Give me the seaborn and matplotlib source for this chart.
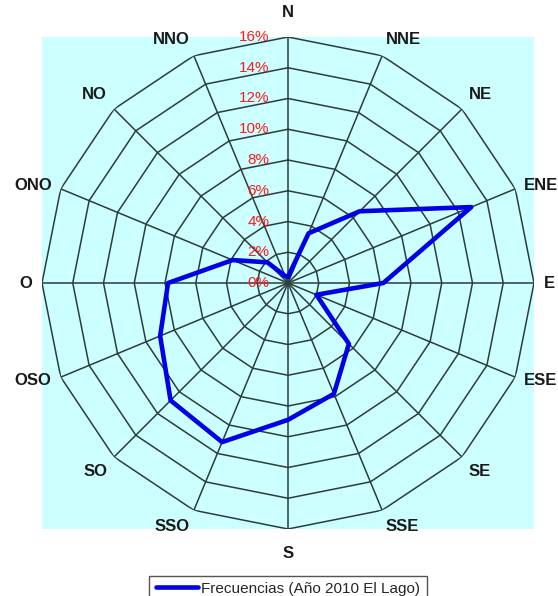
import numpy as np
import matplotlib
matplotlib.use('Agg')
import matplotlib.pyplot as plt
import seaborn as sns
from matplotlib.patches import Rectangle

# Datos: frecuencias de dirección del viento (%)
direcciones = ['N', 'NNE', 'NE', 'ENE', 'E', 'ESE', 'SE', 'SSE',
               'S', 'SSO', 'SO', 'OSO', 'O', 'ONO', 'NO', 'NNO']
frecuencias = [0.4, 3.5, 6.6, 12.9, 6.2, 2.0, 5.6, 7.8,
               8.9, 11.2, 10.8, 9.0, 7.8, 3.9, 1.9, 0.5]
niveles = [0, 2, 4, 6, 8, 10, 12, 14, 16]
etiquetas_niveles = [f'{n}%' for n in niveles]
serie = 'Frecuencias (Año 2010 El Lago)'

sns.set_theme(style='white')
plt.rcParams['font.family'] = ['Liberation Sans', 'DejaVu Sans']

W, H = 558, 596
fig = plt.figure(figsize=(W / 100, H / 100), dpi=100)

# Posición del área polar (centro ~ (288, 283) px, radio ~ 246 px)
cx, cy, rad = 288, 283, 246
rect = [(cx - rad) / W, (H - cy - rad) / H, 2 * rad / W, 2 * rad / H]

# Fondo celeste detrás del radar
fig.add_artist(Rectangle((rect[0], rect[1]), rect[2], rect[3],
                         transform=fig.transFigure, facecolor='#ccffff',
                         edgecolor='none', zorder=0))

ax = fig.add_axes(rect, projection='polar')
ax.set_facecolor('none')
ax.set_theta_zero_location('N')
ax.set_theta_direction(-1)
ax.set_ylim(0, niveles[-1])
ax.grid(False)
ax.set_xticks([])
ax.set_yticks([])
ax.spines['polar'].set_visible(False)

n = len(direcciones)
angulos = np.linspace(0, 2 * np.pi, n, endpoint=False)
ang_cerrado = np.append(angulos, 2 * np.pi)

# Rejilla poligonal
color_rejilla = '#2b3d3b'
for nv in niveles[1:]:
    ax.plot(ang_cerrado, [nv] * (n + 1), color=color_rejilla, lw=1.1, zorder=1)
for a in angulos:
    ax.plot([a, a], [0, niveles[-1]], color=color_rejilla, lw=1.1, zorder=1)

# Serie de datos
sns.lineplot(x=ang_cerrado, y=frecuencias + frecuencias[:1], sort=False,
             estimator=None, ax=ax, color='#0000e6', lw=3.3, label=serie,
             zorder=3, legend=False)

# Etiquetas de niveles (rojas, junto al eje N)
for nv, txt in zip(niveles, etiquetas_niveles):
    ax.annotate(txt, xy=(0, nv), xytext=(-13.5, 0), textcoords='offset points',
                ha='right', va='center', color='#ff1a1a', fontsize=11,
                zorder=5, annotation_clip=False)

# Etiquetas de direcciones
for a, d in zip(angulos, direcciones):
    sx, sy = np.sin(a), np.cos(a)
    ha = 'left' if sx > 0.1 else ('right' if sx < -0.1 else 'center')
    va = 'bottom' if sy > 0.5 else ('top' if sy < -0.5 else 'center')
    off = 7 if d not in ('N', 'S') else 12
    ax.annotate(d, xy=(a, niveles[-1]), xytext=(sx * off, sy * off),
                textcoords='offset points', ha=ha, va=va, fontsize=12,
                fontweight='bold', color='#1a1a1a', annotation_clip=False)

# Leyenda
linea = ax.get_lines()[-1]
fig.legend([linea], [serie], loc='upper center',
           bbox_to_anchor=(cx / W, 1 - 568 / H), frameon=True, fancybox=False,
           edgecolor='#555555', framealpha=1, fontsize=11, handlelength=2.8,
           handletextpad=0.2, borderpad=0.4)

fig.savefig('out.png', dpi=100)
